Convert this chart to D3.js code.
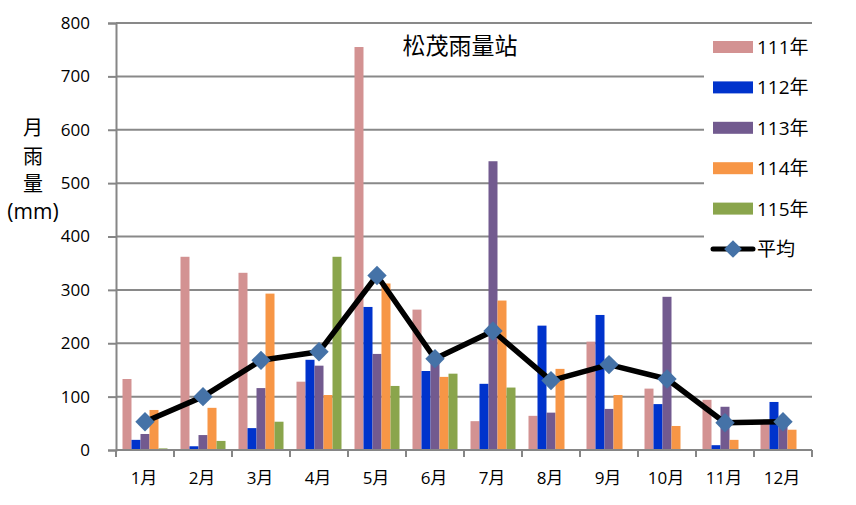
<!DOCTYPE html>
<html>
<head>
<meta charset="utf-8">
<script src="https://cdn.jsdelivr.net/npm/d3@7"></script>
<style>
  body { margin: 0; background: #fff; }
  text { font-family: "Open Sans", "Noto Sans CJK TC", sans-serif; fill: #000; }
</style>
</head>
<body>
<div id="chart"></div>
<script>
var w = 856;
var h = 505;

var months = ["1月", "2月", "3月", "4月", "5月", "6月", "7月", "8月", "9月", "10月", "11月", "12月"];
var seriesNames = ["111年", "112年", "113年", "114年", "115年"];
var colors = ["#D39292", "#0033CC", "#725A8F", "#F79646", "#8AA54C"];
var y111 = [133, 362, 332, 128, 755, 263, 54, 64, 203, 115, 94, 50];
var y112 = [19, 7, 41, 169, 268, 148, 124, 233, 253, 86, 9, 90];
var y113 = [30, 28, 116, 158, 180, 175, 541, 70, 77, 287, 81, 50];
var y114 = [75, 79, 293, 103, 312, 137, 280, 152, 103, 45, 19, 38];
var y115 = [3, 17, 53, 362, 120, 143, 117, 0, 0, 0, 0, 0];
var avg = [53, 100, 168, 184, 327, 171, 223, 130, 160, 133, 51, 53];
var yTicks = [0, 100, 200, 300, 400, 500, 600, 700, 800];

var series = [y111, y112, y113, y114, y115];

var plotL = 116, plotR = 812, plotT = 23, plotB = 450;

var x = d3.scaleBand().domain(months).range([plotL, plotR]).paddingInner(0).paddingOuter(0);
var inner = d3.scaleBand().domain(d3.range(series.length))
  .range([x.bandwidth() * 0.112, x.bandwidth() * 0.888]).paddingInner(0);
var y = d3.scaleLinear().domain([0, 800]).range([plotB, plotT]);

var svg = d3.select("#chart").append("svg").attr("width", w).attr("height", h)
  .style("overflow", "visible");

// gridlines
svg.append("g").selectAll("line").data(yTicks.slice(1)).enter().append("line")
  .attr("x1", plotL).attr("x2", plotR)
  .attr("y1", function (d) { return y(d); })
  .attr("y2", function (d) { return y(d); })
  .attr("stroke", "#898989").attr("stroke-width", 2);

// bars
series.forEach(function (vals, si) {
  svg.append("g").selectAll("rect").data(vals).enter().append("rect")
    .attr("x", function (d, i) { return x(months[i]) + inner(si); })
    .attr("y", function (d) { return y(d); })
    .attr("width", inner.bandwidth())
    .attr("height", function (d) { return plotB - y(d); })
    .attr("fill", colors[si]);
});

// axes
var yAxis = d3.axisLeft(y).tickValues(yTicks).tickSize(8).tickPadding(18);
var gy = svg.append("g").attr("transform", "translate(" + plotL + ",0)").call(yAxis);
gy.select(".domain").attr("stroke", "#868686").attr("stroke-width", 2);
gy.selectAll(".tick line").attr("stroke", "#868686").attr("stroke-width", 2);
gy.selectAll(".tick text").style("font-size", "17px").attr("fill", "#000");

var gx = svg.append("g");
gx.append("line").attr("x1", plotL).attr("x2", plotR).attr("y1", plotB).attr("y2", plotB)
  .attr("stroke", "#868686").attr("stroke-width", 2);
var bounds = months.map(function (m) { return x(m); }).concat([plotR]);
gx.selectAll("line.tk").data(bounds).enter().append("line").attr("class", "tk")
  .attr("x1", function (d) { return d; }).attr("x2", function (d) { return d; })
  .attr("y1", plotB).attr("y2", plotB + 7)
  .attr("stroke", "#868686").attr("stroke-width", 2);
gx.selectAll("text").data(months).enter().append("text")
  .attr("x", function (d) { return x(d) + x.bandwidth() / 2 - 1; })
  .attr("y", 484)
  .attr("text-anchor", "middle")
  .style("font-size", "17px")
  .text(function (d) { return d; });

// average line
var line = d3.line()
  .x(function (d, i) { return x(months[i]) + x.bandwidth() / 2; })
  .y(function (d) { return y(d); });
svg.append("path").datum(avg).attr("d", line)
  .attr("fill", "none").attr("stroke", "#000").attr("stroke-width", 5.5)
  .attr("stroke-linejoin", "round");
svg.append("g").selectAll("path").data(avg).enter().append("path")
  .attr("d", d3.symbol().type(d3.symbolDiamond2).size(240))
  .attr("transform", function (d, i) {
    return "translate(" + (x(months[i]) + x.bandwidth() / 2) + "," + y(d) + ")";
  })
  .attr("fill", "#4572A7");

// title
svg.append("text").attr("x", 460).attr("y", 54).attr("text-anchor", "middle")
  .style("font-size", "23px").text("松茂雨量站");

// y label
var yl = ["月", "雨", "量", "(mm)"];
svg.append("g").selectAll("text").data(yl).enter().append("text")
  .attr("x", 33)
  .attr("y", function (d, i) { return [135, 164, 191, 219][i]; })
  .attr("text-anchor", "middle")
  .style("font-size", function (d, i) { return i < 3 ? "20px" : "21px"; })
  .text(function (d) { return d; });

// legend
var lg = svg.append("g");
lg.append("rect").attr("x", 704).attr("y", 27).attr("width", 111).attr("height", 240).attr("fill", "#fff");
var legendItems = seriesNames.concat(["平均"]);
var ly = function (i) { return 47 + i * 40.4; };
lg.selectAll("rect.sw").data(seriesNames).enter().append("rect").attr("class", "sw")
  .attr("x", 713).attr("y", function (d, i) { return ly(i) - 6; })
  .attr("width", 40).attr("height", 12)
  .attr("fill", function (d, i) { return colors[i]; });
lg.append("line").attr("x1", 713).attr("x2", 753).attr("y1", ly(5)).attr("y2", ly(5))
  .attr("stroke", "#000").attr("stroke-width", 5).attr("stroke-linecap", "round");
lg.append("path").attr("d", d3.symbol().type(d3.symbolDiamond2).size(200))
  .attr("transform", "translate(733," + ly(5) + ")").attr("fill", "#4572A7");
lg.selectAll("text").data(legendItems).enter().append("text")
  .attr("x", 757).attr("y", function (d, i) { return ly(i) + 7; })
  .style("font-size", "19px")
  .text(function (d) { return d; });
</script>
</body>
</html>
